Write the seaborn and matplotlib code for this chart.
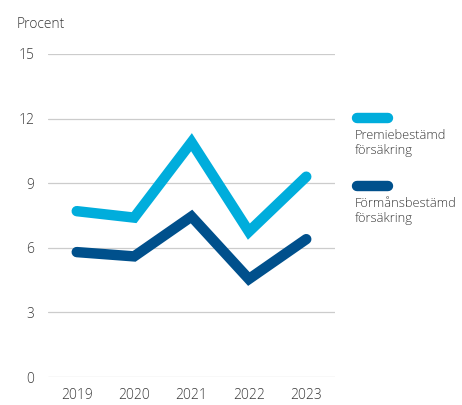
import matplotlib
matplotlib.use("Agg")
import matplotlib.pyplot as plt
from matplotlib.lines import Line2D
import seaborn as sns
import pandas as pd

years = ["2019", "2020", "2021", "2022", "2023"]
premie = [7.7, 7.4, 10.9, 6.75, 9.3]
forman = [5.8, 5.6, 7.45, 4.55, 6.4]
series_names = ["Premiebestämd\nförsäkring", "Förmånsbestämd\nförsäkring"]
colors = ["#00ADDC", "#00508C"]
yticks = [0, 3, 6, 9, 12, 15]

sns.set_theme(style="white")
plt.rcParams["font.family"] = ["Open Sans", "DejaVu Sans"]
plt.rcParams["font.weight"] = "light"

df = pd.DataFrame({
    "year": years * 2,
    "value": premie + forman,
    "series": [series_names[0]] * 5 + [series_names[1]] * 5,
})

fig = plt.figure(figsize=(4.62, 4.05), dpi=100)
ax = fig.add_axes([0.104, 0.069, 0.621, 0.798])

sns.lineplot(data=df, x="year", y="value", hue="series", palette=colors,
             linewidth=7.5, ax=ax, legend=False, sort=False,
             solid_capstyle="round", solid_joinstyle="miter")

ax.set_ylim(0, 15)
ax.set_xlim(-0.5, 4.5)
ax.set_yticks(yticks)
ax.set_yticklabels([str(t) for t in yticks])
ax.yaxis.grid(True, color="#cccccc", linewidth=0.9)
ax.xaxis.grid(False)
ax.set_axisbelow(True)
for s in ax.spines.values():
    s.set_visible(False)
ax.tick_params(axis="both", length=0, labelsize=10, colors="#3a3a3a")
ax.tick_params(axis="y", pad=10)
ax.tick_params(axis="x", pad=8)
ax.set_xlabel("")
ax.set_ylabel("")

fig.text(17 / 462, 1 - 25 / 405, "Procent", fontsize=10, color="#3a3a3a",
         va="center", ha="left")

# legend
leg_y = [118, 186]
for i, name in enumerate(series_names):
    y = 1 - leg_y[i] / 405
    fig.add_artist(Line2D([357 / 462, 388 / 462], [y, y], color=colors[i],
                          linewidth=7.5, solid_capstyle="round",
                          transform=fig.transFigure))
    fig.text(355 / 462, 1 - (leg_y[i] + 11) / 405, name, fontsize=9.3,
             color="#3a3a3a", va="top", ha="left", linespacing=1.2)

fig.savefig("out.png", dpi=100)
